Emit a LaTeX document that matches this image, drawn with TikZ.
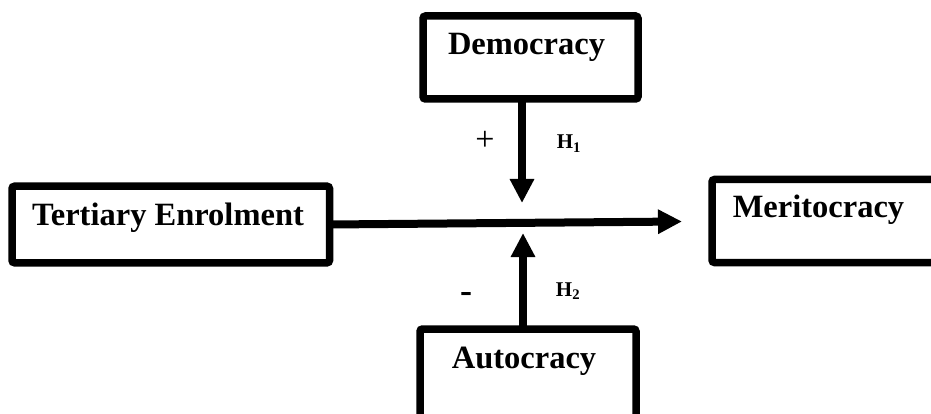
\documentclass[tikz,border=0pt]{standalone}
\usepackage{fontspec}
\setmainfont{Liberation Serif}
\usetikzlibrary{arrows.meta}
\begin{document}
\begin{tikzpicture}[x=1pt,y=-1pt,
  box/.style={draw, line width=7.5pt, rounded corners=2.5pt, inner sep=0pt, outer sep=0pt},
  lbl/.style={font=\fontsize{32.5}{38}\selectfont\bfseries, anchor=base, inner sep=0pt},
  hyp/.style={font=\fontsize{21}{25}\selectfont\bfseries, anchor=base, inner sep=0pt},
  sign/.style={inner sep=0pt},
  conn/.style={line width=8pt, -{Triangle[length=24pt,width=23pt]}}]
\useasboundingbox (0,0) rectangle (931,414);
\clip (0,0) rectangle (931,414);
% boxes
\node[box, minimum width=215pt, minimum height=83pt] (dem) at (530.5,57.5) {};
\node[box, minimum width=317.5pt, minimum height=76.5pt] (ter) at (170.75,224.5) {};
\node[box, minimum width=233pt, minimum height=83pt] (mer) at (828.5,221) {};
\node[box, minimum width=216pt, minimum height=95pt] (aut) at (528,376.5) {};
% texts
\node[lbl] (demtext) at (526.5,55) {Democracy};
\node[lbl] (tertext) at (168,225) {Tertiary Enrolment};
\node[lbl] (mertext) at (818.5,217) {Meritocracy};
\node[lbl] (auttext) at (524,368) {Autocracy};
% connector ends
\coordinate (tipH) at (682,221.5);
\coordinate (tipD) at (522,203);
\coordinate (tipU) at (523,233);
% connectors
\draw[conn] (ter.east) -- (tipH);
\draw[conn] (dem.south -| tipD) -- (tipD);
\draw[conn] (aut.north -| tipU) -- (tipU);
% signs and hypotheses
\node[sign, font=\fontsize{34}{40}\selectfont] (plus) at (485,141) {+};
\node[sign, font=\fontsize{36}{42}\selectfont\bfseries] (minus) at (466,297) {-};
\node[hyp] (h1) at (569,149) {H\textsubscript{1}};
\node[hyp] (h2) at (568,296) {H\textsubscript{2}};
\end{tikzpicture}
\end{document}
